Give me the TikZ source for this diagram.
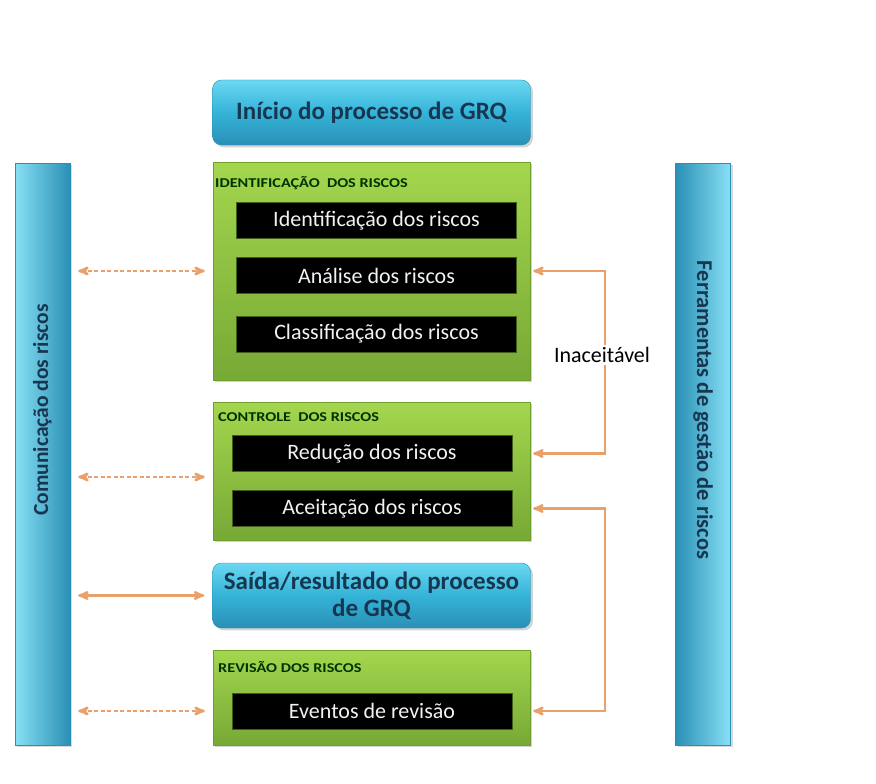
\documentclass[tikz,border=0pt]{standalone}
\usepackage{fontspec}
\setmainfont{Carlito}
\usepackage{tikz}
\usetikzlibrary{arrows,shadows,positioning}

\definecolor{grqblue}{HTML}{35B3D8}
\definecolor{grqbluelight}{HTML}{6AD8F2}
\definecolor{grqbluedark}{HTML}{2A90B5}
\definecolor{grqgreen}{HTML}{8CC63F}
\definecolor{grqgreenlight}{HTML}{A4D64E}
\definecolor{grqgreendark}{HTML}{6E9E2C}
\definecolor{grqorange}{HTML}{E9A06A}
\definecolor{grqnavy}{HTML}{17364F}

\tikzset{
	bluebox/.style={draw=grqbluedark, rounded corners=9pt, top color=grqbluelight, bottom color=grqbluedark,
		middle color=grqblue, minimum width=318pt, text=grqnavy, align=center, inner sep=2pt,
		font=\fontsize{25}{27}\selectfont\bfseries, drop shadow={opacity=0.35}},
	greenbox/.style={draw=grqgreendark, top color=grqgreenlight, bottom color=grqgreen!85!black,
		minimum width=317pt, drop shadow={opacity=0.35}},
	blackbox/.style={fill=black, draw=grqgreendark!60!black, text=white!90!gray, minimum width=280pt,
		minimum height=36pt, font=\fontsize{22}{24}\selectfont},
	grouplabel/.style={anchor=west, inner sep=0pt, text=black!80!green, xscale=1.2,
		font=\fontsize{13.5}{15}\selectfont\bfseries},
	sidebar/.style={draw=grqbluedark, minimum width=55pt, minimum height=582pt, drop shadow={opacity=0.3}},
	sidetext/.style={text=grqnavy, font=\fontsize{21.5}{24}\selectfont\bfseries},
	comarrow/.style={<->, >=stealth', draw=grqorange, line width=2.4pt, shorten >=8pt, shorten <=8pt},
	looparrow/.style={<->, >=stealth', draw=grqorange, line width=2.4pt, shorten >=3pt, shorten <=3pt}
}

\begin{document}
\begin{tikzpicture}[x=1pt, y=-1pt]
	\useasboundingbox (0,0) rectangle (876,784);

	% side bars
	\node[sidebar, left color=grqbluelight!80!white, right color=grqbluedark] (com) at (42.5,454) {};
	\node[sidetext, rotate=90] (comtext) at (42.5,410) {Comunica\c{c}\~ao dos riscos};
	\node[sidebar, left color=grqbluedark, right color=grqbluelight!80!white] (fer) at (703,454) {};
	\node[sidetext, rotate=-90, font=\fontsize{22.5}{24}\selectfont\bfseries] (fertext) at (703,410) {Ferramentas de gest\~ao de riscos};

	% main column
	\node[bluebox, minimum height=65pt] (start) at (371.5,112.5) {In\'icio do processo de GRQ};

	\node[greenbox, minimum height=218pt] (ident) at (371.5,271) {};
	\node[grouplabel] (identlabel) at (215,183) {IDENTIFICA\c{C}\~AO\ \ DOS RISCOS};
	\node[blackbox] (ident1) at (376.5,220.5) {Identifica\c{c}\~ao dos riscos};
	\node[blackbox] (ident2) at (376.5,275.5) {An\'alise dos riscos};
	\node[blackbox] (ident3) at (376.5,334) {Classifica\c{c}\~ao dos riscos};

	\node[greenbox, minimum height=138pt] (ctrl) at (371.5,471) {};
	\node[grouplabel] (ctrllabel) at (218,417) {CONTROLE\ \ DOS RISCOS};
	\node[blackbox] (red) at (372,453.5) {Redu\c{c}\~ao dos riscos};
	\node[blackbox] (acc) at (372,508.5) {Aceita\c{c}\~ao dos riscos};

	\node[bluebox, minimum height=65pt] (out) at (371.5,595.5) {Sa\'ida/resultado do processo\\de GRQ};

	\node[greenbox, minimum height=95pt] (rev) at (371.5,697.5) {};
	\node[grouplabel] (revlabel) at (218,667) {REVIS\~AO DOS RISCOS};
	\node[blackbox] (ev) at (372,711) {Eventos de revis\~ao};

	% communication arrows
	\draw[comarrow, dash pattern=on 4pt off 2.5pt] (com.east |- ident.west) -- (ident.west);
	\draw[comarrow, dash pattern=on 4pt off 2.5pt] (com.east |- 0,477) -- (ctrl.west |- 0,477);
	\draw[comarrow] (com.east |- out.west) -- (out.west);
	\draw[comarrow, dash pattern=on 4pt off 2.5pt] (com.east |- ev.west) -- (rev.west |- ev.west);

	% feedback loops
	\draw[looparrow] (ident.east) -- (605,271) |- (ctrl.east |- red.east);
	\node[fill=white, inner sep=2pt, font=\fontsize{22}{24}\selectfont] (unacc) at (602,355) {Inaceit\'avel};
	\draw[looparrow] (ctrl.east |- acc.east) -- (605,508.5) |- (rev.east |- ev.east);
\end{tikzpicture}
\end{document}
